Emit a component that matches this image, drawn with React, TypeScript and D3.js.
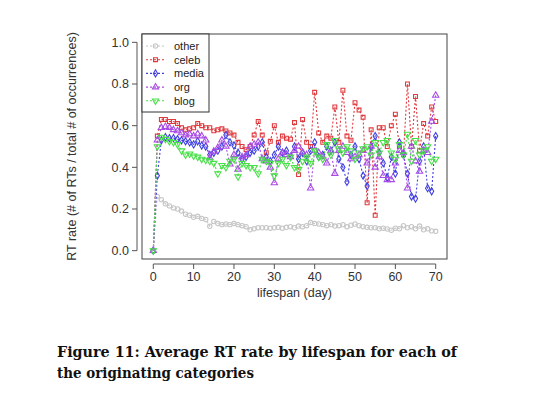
import React from 'react'
import * as d3 from 'd3'

// lifespan in days, 0..70
const days = d3.range(0, 71)

const other = [
  0, 0.26, 0.245, 0.225, 0.215, 0.205, 0.2, 0.19, 0.175, 0.17,
  0.16, 0.165, 0.155, 0.15, 0.117, 0.14, 0.13, 0.125, 0.128, 0.125,
  0.13, 0.125, 0.12, 0.115, 0.1, 0.105, 0.11, 0.11, 0.11, 0.108,
  0.11, 0.112, 0.108, 0.112, 0.115, 0.11, 0.118, 0.115, 0.12, 0.135,
  0.13, 0.128, 0.125, 0.12, 0.125, 0.118, 0.12, 0.125, 0.115, 0.122,
  0.128, 0.12, 0.115, 0.112, 0.11, 0.11, 0.105, 0.108, 0.104, 0.098,
  0.108, 0.105, 0.12, 0.11, 0.115, 0.105, 0.118, 0.1, 0.105, 0.095, 0.093,
]
const celeb = [
  0, 0.55, 0.63, 0.63, 0.62, 0.62, 0.61, 0.59, 0.58, 0.585,
  0.59, 0.61, 0.6, 0.59, 0.59, 0.575, 0.58, 0.585, 0.575, 0.565,
  0.555, 0.52, 0.5, 0.485, 0.5, 0.555, 0.62, 0.555, 0.47, 0.525,
  0.6, 0.52, 0.55, 0.54, 0.535, 0.615, 0.365, 0.63, 0.52, 0.5,
  0.76, 0.565, 0.52, 0.55, 0.54, 0.69, 0.52, 0.77, 0.55, 0.53,
  0.71, 0.675, 0.64, 0.23, 0.58, 0.17, 0.59, 0.59, 0.5, 0.6,
  0.655, 0.5, 0.46, 0.8, 0.5, 0.74, 0.48, 0.61, 0.55, 0.69, 0.62,
]
const media = [
  0, 0.36, 0.53, 0.545, 0.54, 0.54, 0.535, 0.53, 0.525, 0.52,
  0.51, 0.525, 0.505, 0.5, 0.46, 0.47, 0.48, 0.5, 0.555, 0.52,
  0.505, 0.47, 0.44, 0.45, 0.47, 0.48, 0.5, 0.52, 0.45, 0.43,
  0.46, 0.5, 0.47, 0.48, 0.45, 0.5, 0.44, 0.47, 0.43, 0.48,
  0.52, 0.45, 0.46, 0.5, 0.48, 0.52, 0.44, 0.4, 0.33, 0.46,
  0.5, 0.44, 0.36, 0.31, 0.5, 0.55, 0.47, 0.42, 0.35, 0.45,
  0.37, 0.52, 0.46, 0.37, 0.26, 0.25, 0.43, 0.5, 0.3, 0.285, 0.55,
]
const org = [
  0, 0.53, 0.59, 0.595, 0.59, 0.58, 0.575, 0.565, 0.555, 0.56,
  0.55, 0.56, 0.55, 0.53, 0.445, 0.477, 0.494, 0.53, 0.5, 0.415,
  0.46, 0.39, 0.45, 0.46, 0.5, 0.51, 0.52, 0.44, 0.43, 0.4,
  0.325, 0.44, 0.47, 0.46, 0.45, 0.48, 0.5, 0.47, 0.46, 0.3,
  0.48, 0.47, 0.45, 0.42, 0.48, 0.37, 0.48, 0.5, 0.47, 0.44,
  0.45, 0.46, 0.48, 0.42, 0.5, 0.4, 0.45, 0.36, 0.34, 0.34,
  0.42, 0.48, 0.47, 0.3, 0.5, 0.43, 0.38, 0.48, 0.47, 0.62, 0.745,
]
const blog = [
  0, 0.5, 0.545, 0.535, 0.525, 0.52, 0.51, 0.48, 0.46, 0.465,
  0.455, 0.45, 0.44, 0.435, 0.43, 0.42, 0.37, 0.41, 0.4, 0.43,
  0.44, 0.355, 0.42, 0.41, 0.4, 0.4, 0.37, 0.44, 0.43, 0.42,
  0.36, 0.42, 0.44, 0.41, 0.45, 0.4, 0.39, 0.43, 0.45, 0.42,
  0.48, 0.45, 0.44, 0.51, 0.46, 0.53, 0.49, 0.47, 0.5, 0.48,
  0.44, 0.47, 0.49, 0.5, 0.46, 0.52, 0.47, 0.52, 0.53, 0.47,
  0.44, 0.51, 0.46, 0.56, 0.43, 0.53, 0.46, 0.48, 0.5, 0.43, 0.44,
]

const seriesNames = ['other', 'celeb', 'media', 'org', 'blog']
const seriesValues = [other, celeb, media, org, blog]
const seriesColors = ['#c6c6c6', '#e0393e', '#3f3fe0', '#a94be6', '#48e048']
const seriesShapes = ['circle', 'square', 'diamond', 'triangle', 'down']

const xTicks = [0, 10, 20, 30, 40, 50, 60, 70]
const yTicks = [0, 0.2, 0.4, 0.6, 0.8, 1.0]

const font = 'Liberation Sans, Arial, sans-serif'

function Marker({ shape, cx, cy, color }) {
  const sym =
    shape === 'circle' ? d3.symbolCircle
      : shape === 'square' ? d3.symbolSquare
        : shape === 'diamond' ? d3.symbolDiamond
          : d3.symbolTriangle
  const size = shape === 'square' ? 15 : shape === 'diamond' ? 15 : shape === 'circle' ? 15 : 17
  const rot = shape === 'down' ? 180 : 0
  return (
    <path
      d={d3.symbol(sym, size)()}
      transform={`translate(${cx},${cy}) rotate(${rot})`}
      fill="none"
      stroke={color}
      strokeWidth={1.1}
    />
  )
}

export default function App() {
  const left = 142, right = 447, top = 34, bottom = 259
  const x = d3.scaleLinear().domain([-2.8, 72.8]).range([left, right])
  const y = d3.scaleLinear().domain([-0.04, 1.04]).range([bottom, top])

  const line = d3.line<number>()
    .x((_, i) => x(days[i]))
    .y(v => y(v))

  return (
    <svg width={560} height={396} style={{ position: 'absolute', left: 0, top: 0, background: '#fff' }}>
      {/* series */}
      {seriesValues.map((vals, s) => (
        <g key={seriesNames[s]}>
          <path d={line(vals)} fill="none" stroke={seriesColors[s]} strokeWidth={1.1} strokeDasharray="2 2" />
          {vals.map((v, i) => (
            <Marker key={i} shape={seriesShapes[s]} cx={x(days[i])} cy={y(v)} color={seriesColors[s]} />
          ))}
        </g>
      ))}

      {/* frame */}
      <rect x={left} y={top} width={right - left} height={bottom - top} fill="none" stroke="#444" strokeWidth={1} />

      {/* y axis */}
      <line x1={137} x2={137} y1={y(0)} y2={y(1)} stroke="#555" />
      {yTicks.map(t => (
        <g key={t}>
          <line x1={132} x2={137} y1={y(t)} y2={y(t)} stroke="#555" />
          <text x={129} y={y(t)} dy="0.35em" textAnchor="end" fontFamily={font} fontSize={12.5} fill="#333">
            {t.toFixed(1)}
          </text>
        </g>
      ))}
      <text
        transform={`translate(76,${(y(0) + y(1)) / 2}) rotate(-90)`}
        textAnchor="middle"
        fontFamily={font}
        fontSize={12.5}
        fill="#333"
      >
        RT rate (# of RTs / total # of occurrences)
      </text>

      {/* x axis */}
      <line x1={x(0)} x2={x(70)} y1={264} y2={264} stroke="#555" />
      {xTicks.map(t => (
        <g key={t}>
          <line x1={x(t)} x2={x(t)} y1={264} y2={269} stroke="#555" />
          <text x={x(t)} y={281} textAnchor="middle" fontFamily={font} fontSize={12.5} fill="#333">
            {t}
          </text>
        </g>
      ))}
      <text x={(left + right) / 2} y={297} textAnchor="middle" fontFamily={font} fontSize={12.5} fill="#333">
        lifespan (day)
      </text>

      {/* legend */}
      <rect x={left} y={top} width={67} height={78} fill="#fff" stroke="#333" strokeWidth={1} />
      {seriesNames.map((name, s) => {
        const ly = 46 + s * 13.7
        return (
          <g key={name}>
            <line x1={146} x2={165} y1={ly} y2={ly} stroke={seriesColors[s]} strokeWidth={1.1} strokeDasharray="2 2" />
            <Marker shape={seriesShapes[s]} cx={155.5} cy={ly} color={seriesColors[s]} />
            <text x={174} y={ly} dy="0.35em" fontFamily={font} fontSize={11} fill="#222">{name}</text>
          </g>
        )
      })}

      {/* caption */}
      <text x={57} y={357} fontFamily="DejaVu Serif, serif" fontWeight="bold" fontSize={14.5} fill="#111"
        textLength={400} lengthAdjust="spacingAndGlyphs">
        Figure 11: Average RT rate by lifespan for each of
      </text>
      <text x={57} y={378} fontFamily="DejaVu Serif, serif" fontWeight="bold" fontSize={14.5} fill="#111"
        textLength={197} lengthAdjust="spacingAndGlyphs">
        the originating categories
      </text>
    </svg>
  )
}
